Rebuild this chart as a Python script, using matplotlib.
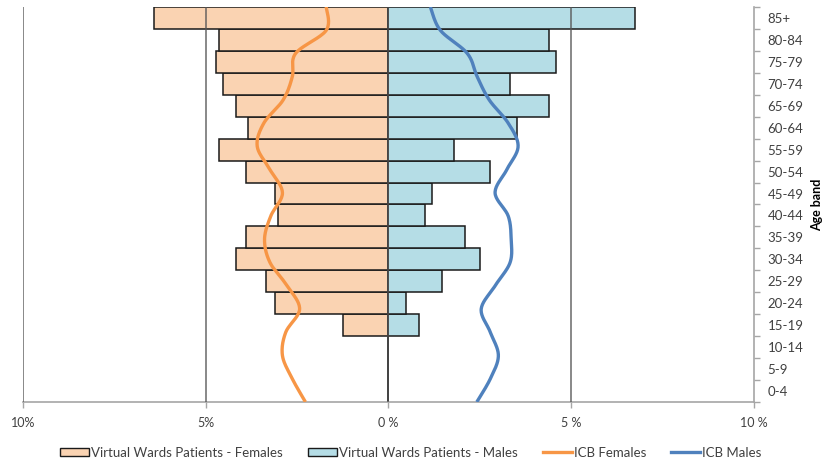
import numpy as np
import matplotlib.pyplot as plt
from matplotlib.patches import Patch
from matplotlib.lines import Line2D

plt.rcParams['font.family'] = ['Lato', 'DejaVu Sans']

age_bands = ['0-4', '5-9', '10-14', '15-19', '20-24', '25-29', '30-34', '35-39', '40-44',
             '45-49', '50-54', '55-59', '60-64', '65-69', '70-74', '75-79', '80-84', '85+']

# virtual wards patients, % of total by age band
vw_females = [0, 0, 0, 1.23, 3.09, 3.36, 4.18, 3.91, 3.03,
              3.09, 3.91, 4.64, 3.83, 4.18, 4.54, 4.73, 4.64, 6.42]
vw_males = [0, 0, 0, 0.83, 0.47, 1.46, 2.52, 2.09, 0.99,
            1.19, 2.79, 1.80, 3.52, 4.40, 3.33, 4.59, 4.40, 6.75]

# ICB population profile
icb_females = [2.27, 2.63, 2.90, 2.81, 2.43, 2.77, 3.24, 3.39, 3.22,
               2.90, 3.24, 3.59, 3.41, 2.88, 2.63, 2.54, 1.70, 1.70]
icb_males = [2.42, 2.79, 3.01, 2.79, 2.54, 2.92, 3.33, 3.36, 3.28,
             2.92, 3.24, 3.55, 3.28, 2.76, 2.43, 2.16, 1.42, 1.15]

x_ticks = [-10, -5, 0, 5, 10]
x_labels = ['10%', '5%', '0 %', '5 %', '10 %']

fem_col = '#FAD3B2'
male_col = '#B5DDE6'
fem_line = '#F79646'
male_line = '#4F81BD'


def smooth(xs, ys, n=20):
    # Catmull-Rom spline through the points, like a smoothed line in a spreadsheet
    p = np.column_stack([xs, ys]).astype(float)
    p = np.vstack([p[0], p, p[-1]])
    out = []
    t = np.linspace(0, 1, n, endpoint=False)[:, None]
    for i in range(1, len(p) - 2):
        p0, p1, p2, p3 = p[i - 1], p[i], p[i + 1], p[i + 2]
        seg = 0.5 * ((2 * p1) + (-p0 + p2) * t + (2 * p0 - 5 * p1 + 4 * p2 - p3) * t ** 2
                     + (-p0 + 3 * p1 - 3 * p2 + p3) * t ** 3)
        out.append(seg)
    out.append(p[-2][None, :])
    out = np.vstack(out)
    return out[:, 0], out[:, 1]


fig = plt.figure(figsize=(8.22, 4.65), dpi=100)
ax = fig.add_axes([0.028, 0.1355, 0.889, 0.8495])

pos = np.arange(len(age_bands))
ax.barh(pos, [-v for v in vw_females], height=1.0, color=fem_col, edgecolor='#1a1a1a',
        linewidth=1.1, zorder=2)
ax.barh(pos, vw_males, height=1.0, color=male_col, edgecolor='#1a1a1a',
        linewidth=1.1, zorder=2)

for gx in [-10, -5, 0, 5]:
    ax.axvline(gx, color='#555555', linewidth=1.3, alpha=0.75, zorder=3)

# lines run from the bottom edge to the top edge of the plot
line_y = np.linspace(-0.5, len(age_bands) - 0.5, len(age_bands))
fx, fy = smooth([-v for v in icb_females], line_y)
mx, my = smooth(icb_males, line_y)
ax.plot(fx, fy, color=fem_line, linewidth=2.4, zorder=4, solid_capstyle='butt')
ax.plot(mx, my, color=male_line, linewidth=2.4, zorder=4, solid_capstyle='butt')

ax.set_xlim(-10, 10)
ax.set_ylim(-0.5, len(age_bands) - 0.5)
ax.set_xticks(x_ticks)
ax.set_xticklabels(x_labels, fontsize=9, color='#404040')
ax.yaxis.tick_right()
ax.set_yticks(pos)
ax.set_yticklabels(age_bands, fontsize=9.5, color='#404040', ha='left')
ax.set_yticks(np.arange(-0.5, len(age_bands), 1), minor=True)
ax.tick_params(axis='y', which='major', length=0, pad=10)
ax.tick_params(axis='y', which='minor', length=4, color='#a6a6a6', width=1)
ax.tick_params(axis='x', length=4, color='#a6a6a6', width=1, pad=7)

# axis title sits at the far right, beside the age band labels
fig.text(0.9935, 0.559, 'Age band', rotation=90, ha='center', va='center',
         fontsize=9, fontweight='bold')

for s in ['top', 'left']:
    ax.spines[s].set_visible(False)
for s in ['bottom', 'right']:
    ax.spines[s].set_color('#a6a6a6')
    ax.spines[s].set_linewidth(1.2)

handles = [Patch(facecolor=fem_col, edgecolor='#1a1a1a', label='Virtual Wards Patients - Females'),
           Patch(facecolor=male_col, edgecolor='#1a1a1a', label='Virtual Wards Patients - Males'),
           Line2D([], [], color=fem_line, linewidth=2.4, label='ICB Females'),
           Line2D([], [], color=male_line, linewidth=2.4, label='ICB Males')]
fig.legend(handles=handles, loc='lower center', bbox_to_anchor=(0.5, -0.012), ncol=4,
           frameon=False, fontsize=9.5, handlelength=2.2, handleheight=0.55,
           handletextpad=0.15, columnspacing=1.9, labelcolor='#404040')

fig.savefig('out.png', dpi=100)
